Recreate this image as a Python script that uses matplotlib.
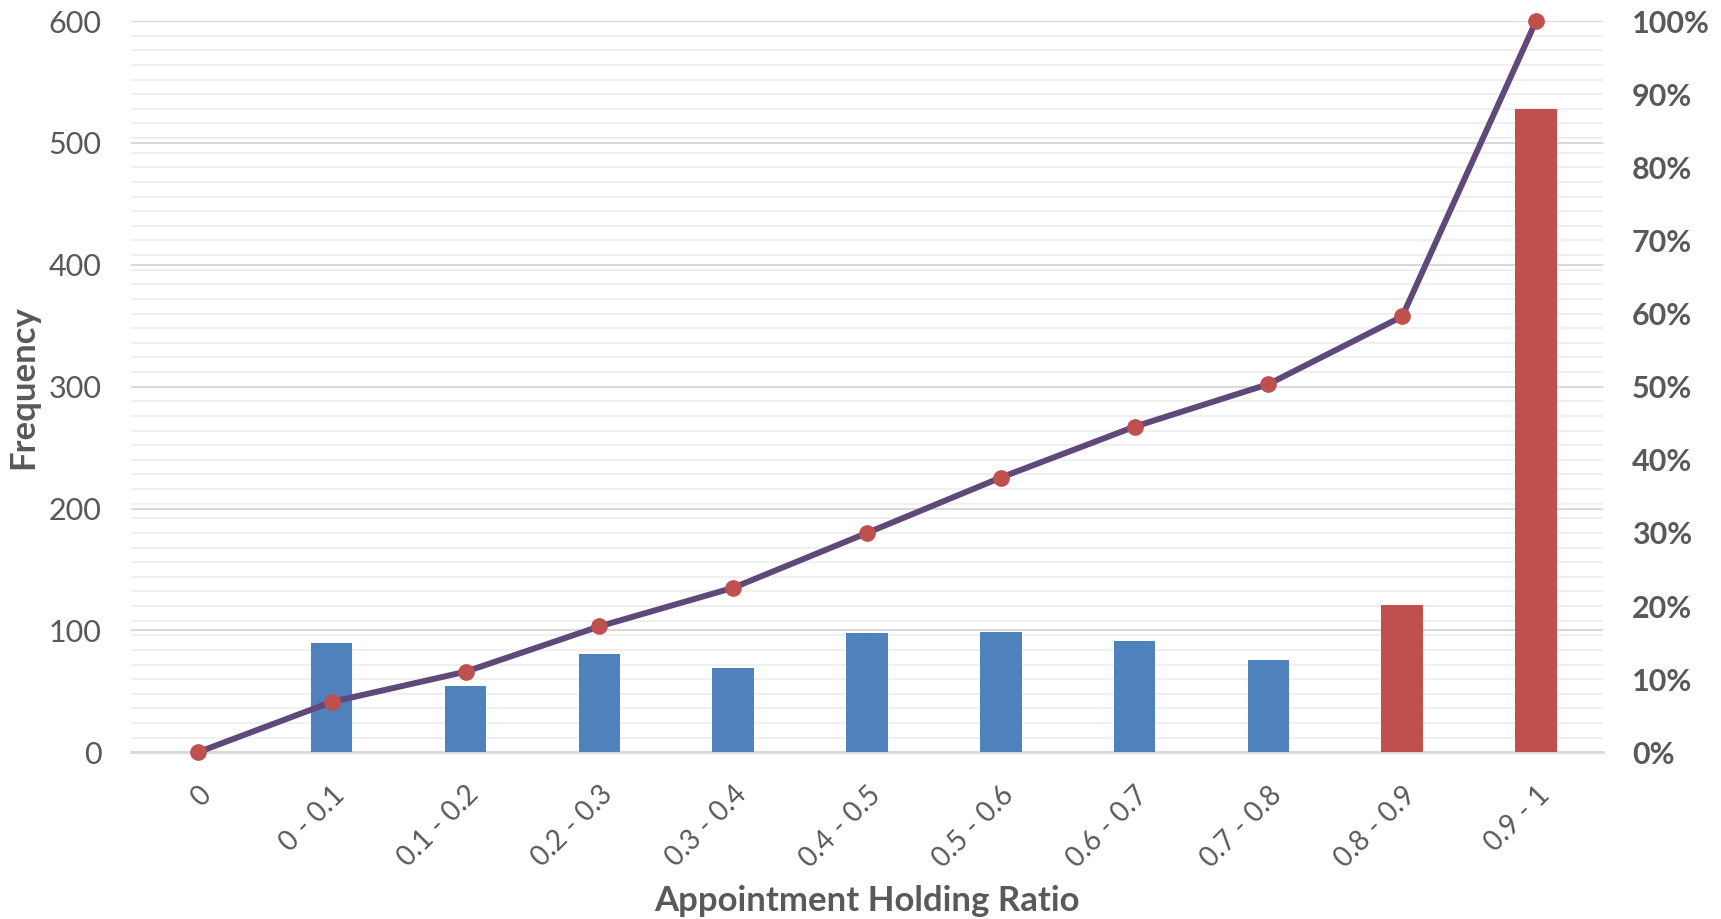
import numpy as np
import matplotlib.pyplot as plt
from matplotlib.ticker import MultipleLocator, FuncFormatter

plt.rcParams['font.family'] = ['Lato', 'DejaVu Sans']

# histogram bins and counts
bins = ['0', '0 - 0.1', '0.1 - 0.2', '0.2 - 0.3', '0.3 - 0.4', '0.4 - 0.5',
        '0.5 - 0.6', '0.6 - 0.7', '0.7 - 0.8', '0.8 - 0.9', '0.9 - 1']
counts = [0, 90, 54, 81, 69, 98, 99, 91, 76, 121, 528]
highlight = [False] * 9 + [True, True]

cum_pct = np.cumsum(counts) / np.sum(counts) * 100

blue = '#4F81BD'; red = '#C0504D'; purple = '#5F497A'; txt = '#595959'

fig = plt.figure(figsize=(17.21, 9.19), dpi=100)
ax = fig.add_axes([0.0761, 0.1814, 0.8553, 0.7957])
ax2 = ax.twinx()

x = np.arange(len(bins))
cols = [red if h else blue for h in highlight]
ax.bar(x, counts, width=0.31, color=cols, zorder=3)
ax.set_xlim(-0.5, len(bins) - 0.5)
ax.set_ylim(0, 600)
ax.yaxis.set_major_locator(MultipleLocator(100))
# light lines every 2% of the right axis, darker every 100 on the left
ax.yaxis.set_minor_locator(MultipleLocator(12))
ax.grid(axis='y', which='minor', color='#F0F0F0', lw=1.5, zorder=0)
ax.grid(axis='y', which='major', color='#D9D9D9', lw=1.5, zorder=1)
ax.set_axisbelow(True)

# cumulative percentage on the secondary axis
ax2.set_ylim(0, 100)
ax2.yaxis.set_major_locator(MultipleLocator(10))
ax2.yaxis.set_major_formatter(FuncFormatter(lambda v, p: '%d%%' % v))
ax2.plot(x, cum_pct, color=purple, lw=4.3, marker='o', ms=11,
         mfc=red, mec=red, zorder=4, clip_on=False)

for a in (ax, ax2):
    for s in a.spines.values():
        s.set_visible(False)
    a.tick_params(which='both', length=0)
ax.spines['bottom'].set_visible(True)
ax.spines['bottom'].set_color('#D9D9D9')
ax.spines['bottom'].set_linewidth(2)

ax.set_xticks(x)
ax.set_xticklabels(bins, rotation=45, ha='right', rotation_mode='anchor')
ax.tick_params(axis='x', colors=txt, labelsize=20, pad=21)
ax.tick_params(axis='y', colors=txt, labelsize=22, pad=21)
ax2.tick_params(axis='y', colors=txt, labelsize=22, pad=21)
for t in ax2.get_yticklabels():
    t.set_fontweight('bold')

fig.text(0.5037, 0.02, 'Appointment Holding Ratio', fontsize=25,
         fontweight='bold', color=txt, ha='center', va='center')
ax.set_ylabel('Frequency', fontsize=25, fontweight='bold', color=txt)
ax.yaxis.set_label_coords(-0.062, 0.5)

fig.savefig('out.png', dpi=100)
